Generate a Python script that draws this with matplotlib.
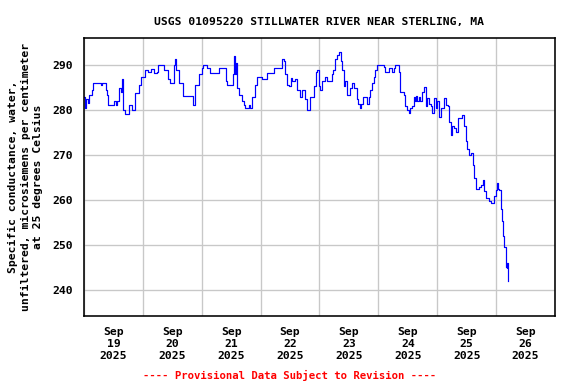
import matplotlib
matplotlib.use("Agg")
import matplotlib.pyplot as plt
import matplotlib.dates as mdates
import pandas as pd

# hours after 2025-09-19 00:00 (rows of 10, same layout as the values below)
heures = [
    0.0, 0.4, 0.8, 1.5, 2.0, 3.4, 3.8, 6.8, 7.1, 7.5,
    8.4, 8.9, 9.5, 9.8, 12.0, 12.3, 12.9, 13.6, 14.3, 15.0,
    15.4, 15.8, 16.1, 16.6, 17.7, 18.4, 19.3, 19.7, 20.4, 20.7,
    22.5, 23.4, 24.5, 24.9, 25.9, 27.2, 28.6, 29.9, 30.2, 32.0,
    32.7, 33.8, 34.3, 35.1, 36.1, 36.5, 37.0, 37.6, 38.8, 40.2,
    44.2, 44.6, 45.3, 47.0, 48.3, 48.7, 49.4, 50.1, 51.2, 54.2,
    54.9, 57.6, 58.0, 58.5, 60.3, 60.7, 61.0, 61.4, 61.8, 62.4,
    63.0, 64.4, 65.1, 65.8, 67.1, 67.8, 68.5, 69.9, 70.5, 71.9,
    72.6, 73.9, 74.6, 76.7, 77.3, 80.1, 80.8, 81.4, 82.1, 82.8,
    83.5, 84.2, 84.8, 86.2, 86.9, 88.2, 88.9, 90.3, 91.0, 91.6,
    92.3, 93.7, 94.4, 95.1, 95.7, 96.3, 96.9, 98.3, 99.0, 100.4,
    101.0, 101.7, 102.4, 103.1, 104.0, 104.6, 105.1, 105.8, 106.5, 107.2,
    107.8, 108.5, 109.2, 109.9, 110.6, 111.2, 111.9, 112.6, 113.0, 113.6,
    114.7, 115.3, 116.0, 116.7, 117.4, 118.1, 118.7, 119.4, 122.1, 122.8,
    123.5, 124.2, 125.5, 126.2, 126.9, 127.6, 128.3, 129.0, 130.3, 131.0,
    131.7, 132.4, 133.0, 133.7, 134.4, 135.0, 135.4, 135.8, 136.4, 137.1,
    137.8, 138.6, 139.3, 140.0, 140.6, 141.3, 142.0, 142.7, 143.4, 144.1,
    144.7, 145.4, 146.1, 146.7, 147.4, 148.2, 148.8, 149.5, 150.2, 150.9,
    151.6, 152.3, 153.6, 154.3, 154.9, 155.6, 156.3, 157.0, 157.7, 158.4,
    159.0, 159.7, 160.4, 161.1, 161.8, 162.5, 163.1, 163.8, 165.2, 165.9,
    166.5, 167.2, 167.9, 168.3, 168.8, 169.2, 169.9, 170.3, 171.0, 171.3,
    172.0, 172.4, 172.6, 172.7,
]
# specific conductance, microsiemens/cm at 25 C
conductance = [
    283.0, 280.5, 282.5, 281.7, 283.5, 284.5, 286.0, 286.0, 285.7, 286.0,
    286.0, 284.5, 283.5, 281.2, 281.2, 282.0, 281.2, 282.0, 285.0, 284.0,
    287.0, 284.0, 280.0, 279.3, 279.3, 281.2, 281.2, 280.0, 280.0, 283.9,
    285.6, 287.5, 287.5, 289.0, 288.5, 289.2, 288.3, 288.5, 290.0, 290.0,
    289.0, 289.0, 287.0, 286.2, 286.2, 290.0, 291.5, 289.0, 286.0, 283.2,
    283.2, 281.2, 285.6, 288.0, 289.5, 290.0, 290.0, 289.5, 288.3, 288.3,
    289.5, 289.5, 286.5, 285.6, 285.6, 288.0, 292.0, 288.0, 290.5, 285.0,
    283.5, 282.0, 281.2, 280.5, 281.2, 280.5, 283.0, 285.6, 287.5, 287.5,
    287.0, 287.0, 288.3, 288.3, 289.4, 289.4, 291.4, 291.0, 288.0, 285.6,
    285.5, 287.3, 286.5, 287.0, 284.5, 283.0, 284.5, 282.5, 280.0, 280.0,
    283.0, 285.5, 288.5, 289.0, 285.5, 284.5, 286.5, 287.5, 286.5, 286.5,
    288.0, 289.0, 291.4, 292.3, 293.0, 291.0, 289.0, 285.5, 286.5, 283.5,
    283.5, 285.0, 286.0, 285.0, 285.0, 282.5, 281.5, 280.5, 281.5, 283.0,
    283.0, 281.5, 283.0, 284.5, 286.0, 287.5, 289.0, 290.0, 289.6, 288.5,
    288.5, 289.5, 288.5, 289.5, 290.0, 290.0, 288.5, 284.0, 283.5, 281.0,
    280.0, 279.5, 280.5, 281.0, 283.0, 282.0, 283.3, 282.2, 283.0, 282.0,
    284.0, 285.3, 281.0, 282.8, 281.5, 281.0, 279.4, 282.7, 280.5, 282.0,
    278.6, 280.5, 280.5, 282.7, 281.2, 281.0, 277.5, 274.6, 276.5, 276.0,
    275.3, 278.3, 278.3, 278.9, 276.5, 273.3, 271.5, 270.0, 270.5, 267.9,
    265.0, 262.5, 262.5, 263.0, 263.5, 264.6, 262.0, 260.5, 259.8, 259.4,
    259.5, 261.0, 262.3, 263.9, 262.5, 262.3, 258.0, 255.5, 252.0, 249.7,
    245.3, 245.0, 246.0, 242.0,
]

titre = "USGS 01095220 STILLWATER RIVER NEAR STERLING, MA"
label_y = "Specific conductance, water,\nunfiltered, microsiemens per centimeter\nat 25 degrees Celsius"
note = "---- Provisional Data Subject to Revision ----"
y_ticks = [240, 250, 260, 270, 280, 290]

police = "DejaVu Sans Mono"
taille = 8.5

debut = pd.Timestamp("2025-09-19")
temps = debut + pd.to_timedelta(heures, unit="h")

fig = plt.figure(figsize=(6, 4), dpi=96)
ax = fig.add_axes([0.1458, 0.177, 0.8177, 0.724])

ax.plot(temps, conductance, color="blue", linewidth=0.9, drawstyle="steps-post")

ax.set_xlim(debut, debut + pd.Timedelta(days=8))
ax.set_ylim(234.3, 296.1)

# gridlines at midnight, labels centred at noon
ax.xaxis.set_major_locator(mdates.DayLocator())
ax.xaxis.set_major_formatter(plt.NullFormatter())
ax.xaxis.set_minor_locator(mdates.HourLocator(byhour=[12]))
ax.xaxis.set_minor_formatter(mdates.DateFormatter("%b\n%d\n%Y"))
ax.set_yticks(y_ticks)

ax.grid(True, which="major", color="#c8c8c8", linewidth=1.0)
ax.set_axisbelow(True)
ax.tick_params(axis="both", which="both", length=0)
ax.tick_params(axis="x", which="minor", pad=8)
ax.tick_params(axis="y", pad=8)

for lab in ax.get_xticklabels(minor=True) + ax.get_yticklabels():
    lab.set_fontfamily(police)
    lab.set_fontweight("bold")
    lab.set_fontsize(taille)
for lab in ax.get_xticklabels(minor=True):
    lab.set_linespacing(1.3)

for s in ax.spines.values():
    s.set_linewidth(1.2)

ax.set_ylabel(label_y, fontfamily=police, fontweight="bold", fontsize=taille,
              linespacing=1.3, labelpad=7)
ax.set_title(titre, fontfamily=police, fontweight="bold", fontsize=taille, pad=10)
fig.text(0.502, 0.023, note, color="red", fontfamily=police, fontweight="bold",
         fontsize=8, ha="center", va="center")

fig.savefig("out.png", dpi=96)
